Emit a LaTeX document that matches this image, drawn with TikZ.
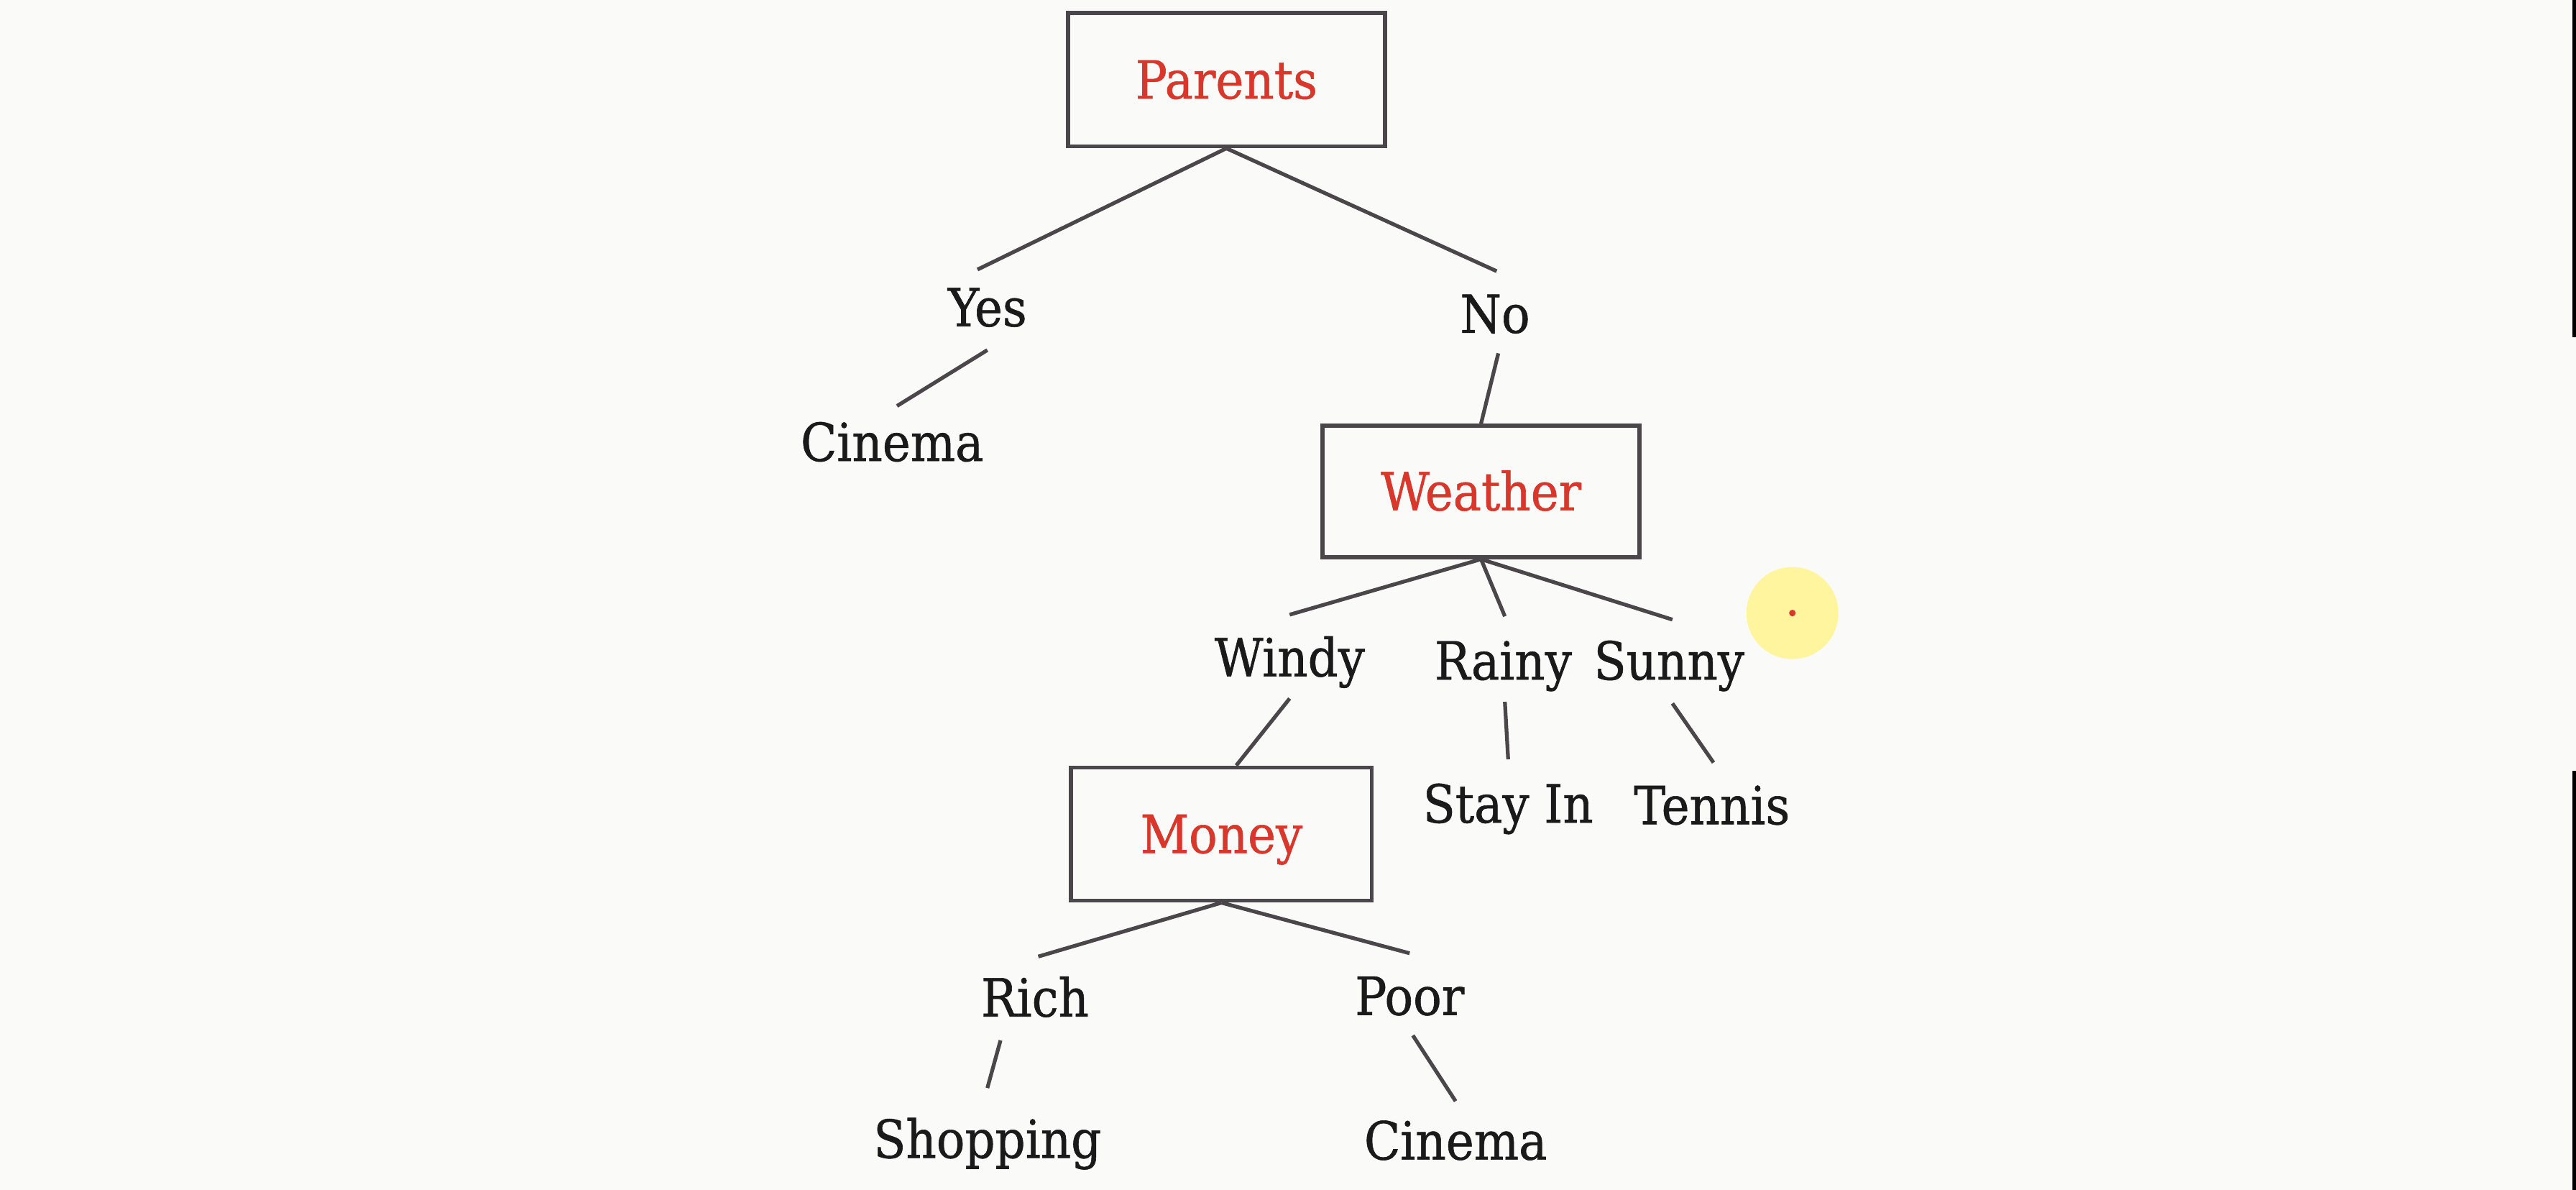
\documentclass[tikz,border=0pt]{standalone}
\usepackage{fontspec}
\setmainfont{DejaVu Serif Condensed}[FakeBold=0.8]
\definecolor{bgc}{HTML}{FAFBF9}
\definecolor{linec}{HTML}{4A4649}
\definecolor{redt}{HTML}{D8372C}
\definecolor{txt}{HTML}{1A1A1A}
\definecolor{hilite}{HTML}{FFF59E}
\begin{document}
\begin{tikzpicture}[x=1pt,y=-1pt,
  every node/.style={font=\fontsize{32}{36}\selectfont, text height=23pt, text depth=0pt, inner sep=0pt},
  leaf/.style={text=txt},
  attr/.style={draw=linec, line width=2.5pt, text=redt, minimum height=81pt},
  conn/.style={draw=linec, line width=2.3pt}]
\fill[bgc] (0,0) rectangle (1568,724);
\useasboundingbox (0,0) rectangle (1568,724);

% decision boxes
\node[attr, minimum width=193pt] (parents) at (746.5,48.5) {Parents};
\node[attr, minimum width=193pt, minimum height=80pt] (weather) at (901.5,299) {Weather};
\node[attr, minimum width=183pt] (money) at (743.5,507.5) {Money};

% labels
\node[leaf] (yes) at (601,187) {Yes};
\node[leaf] (no) at (910,191) {No};
\node[leaf] (cinema1) at (543,269) {Cinema};
\node[leaf] (windy) at (785,400) {Windy};
\node[leaf] (rainy) at (915,402) {Rainy};
\node[leaf] (sunny) at (1016,402) {Sunny};
\node[leaf] (stayin) at (918,489) {Stay In};
\node[leaf] (tennis) at (1042,490) {Tennis};
\node[leaf] (rich) at (630,607) {Rich};
\node[leaf] (poor) at (858,606) {Poor};
\node[leaf] (shopping) at (601,693) {Shopping};
\node[leaf] (cinema2) at (886,694) {Cinema};

% connector ends
\coordinate (yesT) at (595,164);
\coordinate (noT) at (911,165);
\coordinate (yesB) at (601,213);
\coordinate (cin1T) at (546,247);
\coordinate (noB) at (912,215);
\coordinate (windyT) at (785,374);
\coordinate (rainyT) at (916,375);
\coordinate (sunnyT) at (1018,377);
\coordinate (windyB) at (785,425);
\coordinate (rainyB) at (916,427);
\coordinate (stayT) at (918,462);
\coordinate (sunnyB) at (1018,428);
\coordinate (tennisT) at (1043,464);
\coordinate (richT) at (632,582);
\coordinate (poorT) at (858,580);
\coordinate (richB) at (609,633);
\coordinate (shopT) at (601,662);
\coordinate (poorB) at (860,630);
\coordinate (cin2T) at (886,670);

\draw[conn] (parents.south) -- (yesT);
\draw[conn] (parents.south) -- (noT);
\draw[conn] (yesB) -- (cin1T);
\draw[conn] (noB) -- (weather.north);
\draw[conn] (weather.south) -- (windyT);
\draw[conn] (weather.south) -- (rainyT);
\draw[conn] (weather.south) -- (sunnyT);
\draw[conn] (windyB) -- ([xshift=9pt]money.north);
\draw[conn] (rainyB) -- (stayT);
\draw[conn] (sunnyB) -- (tennisT);
\draw[conn] (money.south) -- (richT);
\draw[conn] (money.south) -- (poorT);
\draw[conn] (richB) -- (shopT);
\draw[conn] (poorB) -- (cin2T);

% pointer highlight
\fill[hilite] (1091,373) circle (28);
\fill[redt] (1091,373) circle (2);

% right edge marks
\draw[black, line width=2pt] (1567,0) -- (1567,205);
\draw[black, line width=2pt] (1567,469) -- (1567,724);
\end{tikzpicture}
\end{document}
